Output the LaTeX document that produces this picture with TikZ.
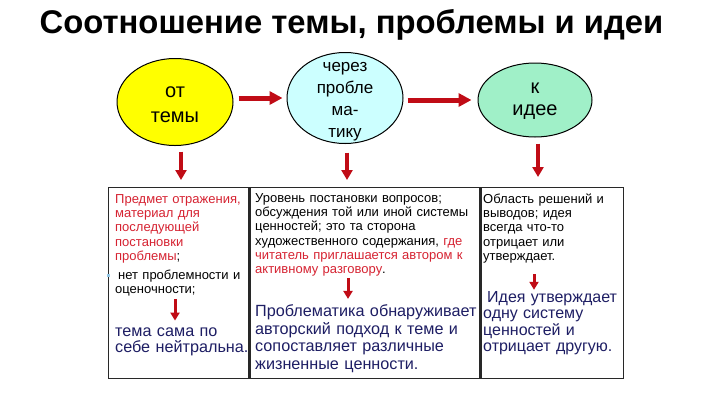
\documentclass[tikz,border=0pt]{standalone}
\usepackage{fontspec}
\setmainfont{Liberation Sans}
\usepackage{xcolor}
\usepackage{tikz}
\usetikzlibrary{positioning,shapes.geometric,arrows.meta}

\definecolor{txtred}{RGB}{214,35,50}
\definecolor{navy}{RGB}{30,30,100}
\definecolor{arrowred}{RGB}{192,12,22}
\definecolor{ovalyellow}{RGB}{255,255,0}
\definecolor{ovalcyan}{RGB}{204,255,255}
\definecolor{ovalmint}{RGB}{160,240,200}
\definecolor{bulletblue}{RGB}{150,200,230}
\definecolor{cellgray}{RGB}{40,40,40}

\begin{document}
\begin{tikzpicture}[x=1pt, y=-1pt,
      oval/.style={ellipse, draw=black, line width=1pt, inner sep=0pt},
      ovaltext/.style={align=center, inner sep=0pt},
      cell/.style={rectangle, draw=cellgray, line width=1.3pt, anchor=north west, minimum height=191pt, inner sep=0pt},
      smalltext/.style={anchor=base west, align=left, inner sep=0pt, font=\fontsize{13}{14.2}\selectfont},
      bigtext/.style={anchor=base west, align=left, inner sep=0pt, text=navy},
      bigarrow/.style={draw=arrowred, line width=5pt, -{Triangle[length=13pt,width=13pt]}},
      downarrow/.style={draw=arrowred, line width=4pt, -{Triangle[length=10pt,width=11pt]}},
      smallarrow/.style={draw=arrowred, line width=3pt, -{Triangle[length=8pt,width=9pt]}}
    ]
    \useasboundingbox (0,0) rectangle (720,405);
    \fill[white] (0,0) rectangle (720,405);

    \node [font=\fontsize{32.8}{36}\bfseries\selectfont, anchor=base] (title) at (351.5,33.5) {Соотношение темы, проблемы и идеи};

    \node [oval, fill=ovalyellow, minimum width=116pt, minimum height=87pt] (tema) at (175,102) {};
    \node [oval, fill=ovalcyan, minimum width=116pt, minimum height=91pt, right of=tema, node distance=170pt, yshift=4pt] (problema) {};
    \node [oval, fill=ovalmint, minimum width=114pt, minimum height=74pt, right of=problema, node distance=190pt, yshift=-2pt] (ideya) {};

    \node [ovaltext, font=\fontsize{20}{25}\selectfont, yshift=-3pt] (tematext) at (tema) {от\\темы};
    \node [ovaltext, font=\fontsize{17}{22.2}\selectfont, yshift=-3.5pt] (problematext) at (problema) {через\\пробле\\ма-\\тику};
    \node [ovaltext, font=\fontsize{20}{21.7}\selectfont, yshift=-1pt] (ideyatext) at (ideya) {к\\идее};

    \path [bigarrow, shorten <=5pt, shorten >=4pt] (tema.east |- problema.west) -- (problema.west);
    \path [bigarrow, shorten <=4pt, shorten >=6pt] (problema.east |- ideya.west) -- (ideya.west);

    \node [cell, minimum width=140pt] (c1) at (108,187) {};
    \node [cell, minimum width=230pt] (c2) at (c1.north east) {};
    \node [cell, minimum width=142pt] (c3) at (c2.north east) {};

    \path [downarrow, shorten <=5.5pt, shorten >=7pt] ([xshift=6pt]tema.south) -- ([xshift=6pt]tema.south |- c1.north);
    \path [downarrow, shorten <=8.5pt, shorten >=7pt] ([xshift=2pt]problema.south) -- ([xshift=2pt]problema.south |- c2.north);
    \path [downarrow, shorten <=6pt, shorten >=10pt] ([xshift=3pt]ideya.south) -- ([xshift=3pt]ideya.south |- c3.north);

    % upper texts
    \node [smalltext, text width=135pt] (t1a) at (115,203.5) {\textcolor{txtred}{Предмет отражения,}\\\textcolor{txtred}{материал для}\\\textcolor{txtred}{последующей}\\\textcolor{txtred}{постановки}\\\textcolor{txtred}{проблемы};\\[4.5pt]\hspace*{3pt}\llap{\textcolor{bulletblue}{\raisebox{2pt}{\rule{3pt}{3pt}}}\hspace{8pt}}нет проблемности и\\оценочности;};
    \node [smalltext, text width=225pt] (t2a) at (255,202.5) {Уровень постановки вопросов;\\обсуждения той или иной системы\\ценностей; это та сторона\\художественного содержания, \textcolor{txtred}{где}\\\textcolor{txtred}{читатель приглашается автором к}\\\textcolor{txtred}{активному разговору}.};
    \node [smalltext, text width=135pt] (t3a) at (483,203.5) {Область решений и\\выводов; идея\\всегда что-то\\отрицает или\\утверждает.};

    % lower texts
    \node [bigtext, text width=135pt, font=\fontsize{16.2}{15.6}\selectfont] (t1b) at (115,336.5) {тема сама по\\себе нейтральна.};
    \node [bigtext, text width=225pt, font=\fontsize{16.2}{17.7}\selectfont] (t2b) at (255,316.5) {Проблематика обнаруживает\\авторский подход к теме и\\сопоставляет различные\\жизненные ценности.};
    \node [bigtext, text width=140pt, font=\fontsize{16}{16.3}\selectfont] (t3b) at (483,302.5) {\hspace*{4pt}Идея утверждает\\одну систему\\ценностей и\\отрицает другую.};

    \path [smallarrow, shorten <=3pt, shorten >=7pt] ([xshift=60pt]t1a.south west) -- ([xshift=60pt]t1b.north west);
    \path [smallarrow, shorten <=1.5pt, shorten >=5.5pt] ([xshift=93pt]t2a.south west) -- ([xshift=93pt]t2b.north west);
    \path [smallarrow, shorten <=11pt, shorten >=1.5pt] ([xshift=51pt]t3a.south west) -- ([xshift=51pt]t3b.north west);

    \end{tikzpicture}
\end{document}
